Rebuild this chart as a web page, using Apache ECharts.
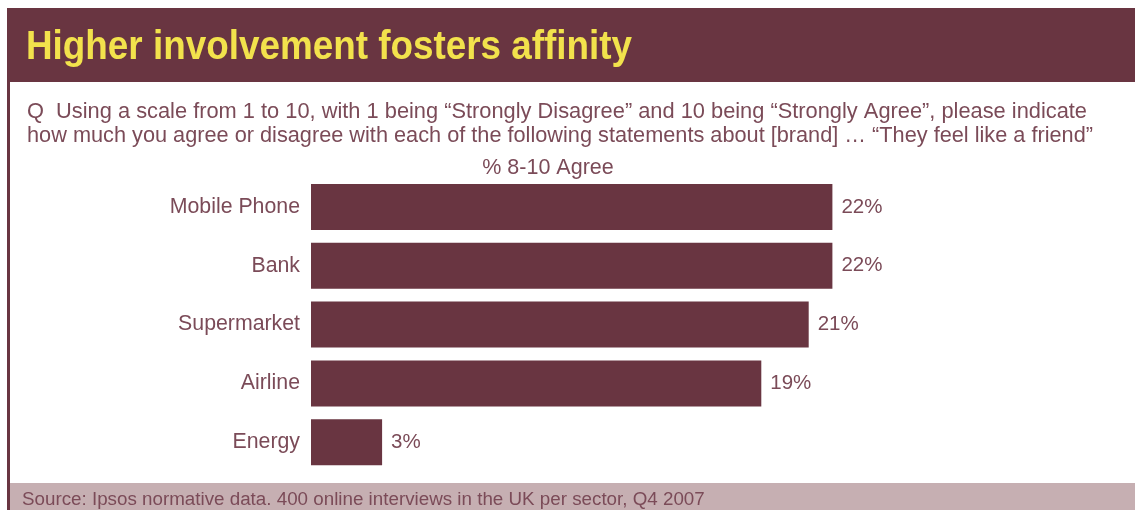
<!DOCTYPE html>
<html><head><meta charset="utf-8">
<script src="https://cdn.jsdelivr.net/npm/echarts@6/dist/echarts.min.js"></script>
<style>html,body{margin:0;padding:0;background:#fff}#c{width:1135px;height:510px}</style>
</head><body><div id="c"></div>
<script>
const categories = ["Mobile Phone", "Bank", "Supermarket", "Airline", "Energy"];
const values = [22, 22, 21, 19, 3];
const titleText = "Higher involvement fosters affinity";
const questionLines = [
  "Q  Using a scale from 1 to 10, with 1 being \u201cStrongly Disagree\u201d and 10 being \u201cStrongly Agree\u201d, please indicate",
  "how much you agree or disagree with each of the following statements about [brand] \u2026 \u201cThey feel like a friend\u201d"
];
const axisTitle = "% 8-10 Agree";
const sourceText = "Source: Ipsos normative data. 400 online interviews in the UK per sector, Q4 2007";

const maroon = "#693541";
const txt = "#7b4b58";
const titleFont = 'bold 40px "Liberation Sans"';
const qFont = '21.6px "Liberation Sans"';
const ctx = document.createElement('canvas').getContext('2d');
function fitScale(str, font, target) { ctx.font = font; return target / ctx.measureText(str).width; }
const titleScale = fitScale(titleText, titleFont, 606);
const q1Scale = fitScale(questionLines[0], qFont, 1060);
const q2Scale = fitScale(questionLines[1], qFont, 1066);

const chart = echarts.init(document.getElementById('c'), null, {renderer: 'canvas'});
chart.setOption({
  animation: false,
  backgroundColor: '#ffffff',
  graphic: [
    {type: 'rect', left: 8, top: 8, shape: {width: 1127, height: 74}, style: {fill: maroon}},
    {type: 'rect', left: 7, top: 8, shape: {width: 3, height: 502}, style: {fill: maroon}},
    {type: 'rect', left: 10, top: 483, shape: {width: 1125, height: 27}, style: {fill: '#c6afb2'}},
    {type: 'text', x: 26, y: 28, scaleX: titleScale, originX: 0, style: {text: titleText, fill: '#f2e24c', font: titleFont}},
    {type: 'text', x: 27, y: 101, scaleX: q1Scale, originX: 0, style: {text: questionLines[0], fill: txt, font: qFont}},
    {type: 'text', x: 27, y: 125.5, scaleX: q2Scale, originX: 0, style: {text: questionLines[1], fill: txt, font: qFont}},
    {type: 'text', x: 548, y: 157, style: {text: axisTitle, fill: txt, font: '21.5px "Liberation Sans"', align: 'center'}},
    {type: 'text', x: 22, y: 490.5, style: {text: sourceText, fill: txt, font: '18.8px "Liberation Sans"'}}
  ],
  grid: {left: 311, top: 177.6, width: 592.5, height: 294, containLabel: false},
  xAxis: {type: 'value', min: 0, max: 25, show: false},
  yAxis: {
    type: 'category', data: categories, inverse: true,
    axisLine: {show: false}, axisTick: {show: false},
    axisLabel: {color: txt, fontSize: 21.3, fontFamily: 'Liberation Sans', margin: 11}
  },
  series: [{
    type: 'bar', data: values, barWidth: 46,
    itemStyle: {color: maroon},
    label: {show: true, position: 'right', distance: 9, formatter: '{c}%', color: txt, fontSize: 20.5, fontFamily: 'Liberation Sans'}
  }]
});
</script></body></html>
